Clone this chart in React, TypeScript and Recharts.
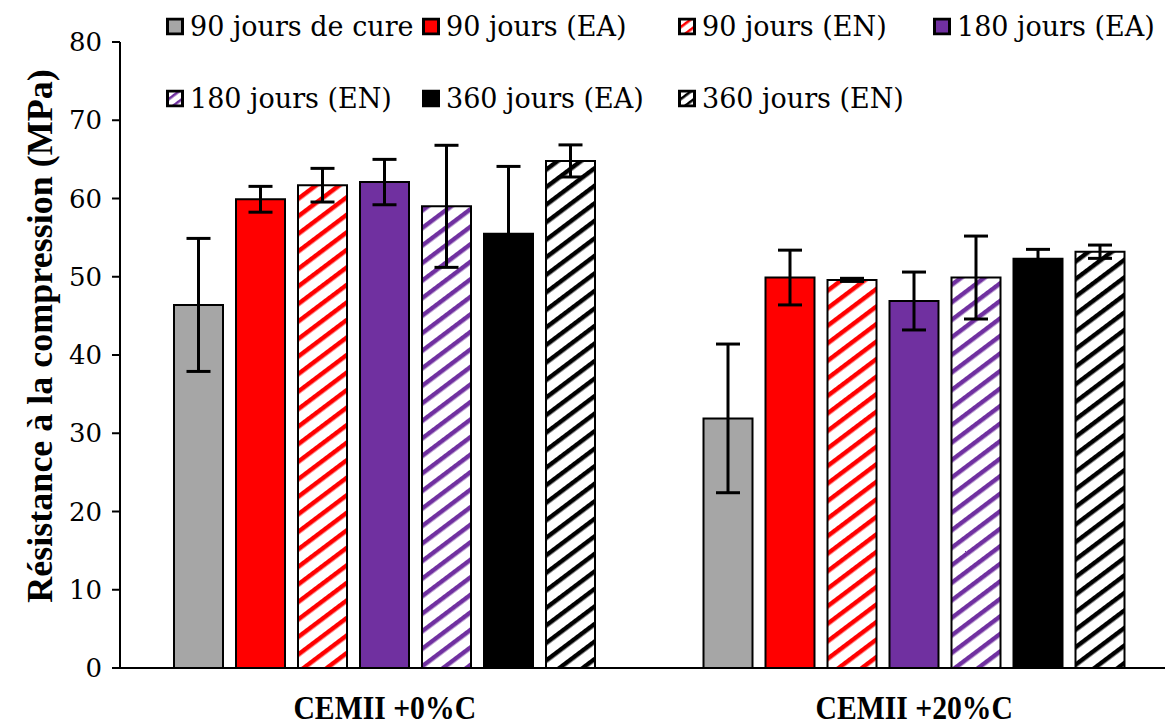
import React from "react";
import { BarChart, Bar, XAxis, YAxis, ErrorBar } from "recharts";

const categories = ["CEMII +0%C", "CEMII +20%C"];
const seriesNames = [
  "90 jours de cure",
  "90 jours (EA)",
  "90 jours (EN)",
  "180 jours (EA)",
  "180 jours (EN)",
  "360 jours (EA)",
  "360 jours (EN)",
];
const cure90 = [46.4, 31.9];
const cure90Err = [8.5, 9.5];
const ea90 = [59.9, 49.9];
const ea90Err = [1.65, 3.5];
const en90 = [61.7, 49.6];
const en90Err = [2.15, 0.2];
const ea180 = [62.1, 46.9];
const ea180Err = [2.9, 3.7];
const en180 = [59.0, 49.9];
const en180Err = [7.8, 5.3];
const ea360 = [55.5, 52.3];
const ea360Err = [8.6, 1.2];
const en360 = [64.8, 53.2];
const en360Err = [2.05, 0.85];
const yTicks = [0, 10, 20, 30, 40, 50, 60, 70, 80];

const seriesValues = [cure90, ea90, en90, ea180, en180, ea360, en360];
const seriesErrors = [cure90Err, ea90Err, en90Err, ea180Err, en180Err, ea360Err, en360Err];

// styles
const seriesStyle = [
  { color: "#a6a6a6", hatch: false },
  { color: "#ff0000", hatch: false },
  { color: "#ff0000", hatch: true },
  { color: "#7030a0", hatch: false },
  { color: "#7030a0", hatch: true },
  { color: "#000000", hatch: false },
  { color: "#000000", hatch: true },
];
const legendCols = [166, 422, 678, 933];
const legendRows = [26, 98];

const data = categories.map((c, i) => {
  const row: Record<string, string | number> = { name: c };
  seriesValues.forEach((vals, s) => {
    row["v" + s] = vals[i];
    row["e" + s] = seriesErrors[s][i];
  });
  return row;
});

const fillFor = (s: number, prefix: string) =>
  seriesStyle[s].hatch ? `url(#${prefix}${s})` : seriesStyle[s].color;

const Patterns = ({ prefix, size }: { prefix: string; size: number }) => (
  <defs>
    {seriesStyle.map((st, s) =>
      st.hatch ? (
        <pattern
          key={s}
          id={prefix + s}
          patternUnits="userSpaceOnUse"
          width={size}
          height={size}
          patternTransform="rotate(-37)"
        >
          <rect x={0} y={0} width={size} height={size} fill="#ffffff" />
          <rect x={0} y={0} width={size} height={size * 0.32} fill={st.color} />
        </pattern>
      ) : null
    )}
  </defs>
);

const YTitle = () => (
  <text
    x={40}
    y={336}
    transform="rotate(-90, 40, 336)"
    textAnchor="middle"
    dominantBaseline="central"
    fontFamily="'Liberation Serif', serif"
    fontWeight="bold"
    fontSize={36}
    fill="#000"
  >
    Résistance à la compression (MPa)
  </text>
);

const CatTick = (props: any) => {
  const { x, y, payload } = props;
  return (
    <g transform={`translate(${x}, ${y + 43})`}>
      <text
        x={0}
        y={0}
        textAnchor="middle"
        fontFamily="'Liberation Serif', serif"
        fontWeight="bold"
        fontSize={33}
        fill="#000"
        transform="scale(0.9, 1)"
      >
        {payload.value}
      </text>
    </g>
  );
};

export default function App() {
  return (
    <div
      style={{
        position: "absolute",
        left: 0,
        top: 0,
        width: 1165,
        height: 725,
        overflow: "hidden",
        background: "#fff",
      }}
    >
      <BarChart
        width={1179}
        height={725}
        data={data}
        margin={{ top: 42, right: 0, bottom: 0, left: 0 }}
        barSize={49}
        barGap={13}
      >
        <Patterns prefix="hatch" size={14} />
        <XAxis
          dataKey="name"
          height={57}
          tickLine={false}
          axisLine={{ stroke: "#000", strokeWidth: 2 }}
          tick={<CatTick />}
        />
        <YAxis
          width={120}
          domain={[0, 80]}
          ticks={yTicks}
          interval={0}
          axisLine={{ stroke: "#000", strokeWidth: 2 }}
          tickLine={{ stroke: "#000", strokeWidth: 2 }}
          tickSize={8}
          tick={{
            fill: "#000",
            fontSize: 26,
            fontFamily: "'DejaVu Serif', serif",
          }}
          tickMargin={10}
          label={<YTitle />}
        />
        {seriesNames.map((n, s) => (
          <Bar
            key={n}
            dataKey={"v" + s}
            name={n}
            fill={fillFor(s, "hatch")}
            stroke="#000"
            strokeWidth={2}
            isAnimationActive={false}
          >
            <ErrorBar
              dataKey={"e" + s}
              width={12}
              stroke="#000"
              strokeWidth={3}
              direction="y"
            />
          </Bar>
        ))}
      </BarChart>
      {seriesNames.map((n, s) => (
        <div
          key={n}
          style={{
            position: "absolute",
            left: legendCols[s % 4],
            top: legendRows[Math.floor(s / 4)],
            transform: "translateY(-50%)",
            display: "flex",
            alignItems: "center",
            whiteSpace: "nowrap",
            fontFamily: "'DejaVu Serif', serif",
            fontSize: 27,
            color: "#000",
            lineHeight: 1,
          }}
        >
          <svg width={18} height={18} style={{ marginRight: 6 }}>
            <Patterns prefix={"lg" + s + "_"} size={8} />
            <rect
              x={1.5}
              y={1.5}
              width={15}
              height={15}
              fill={fillFor(s, "lg" + s + "_")}
              stroke="#000"
              strokeWidth={3}
            />
          </svg>
          <span>{n}</span>
        </div>
      ))}
    </div>
  );
}
